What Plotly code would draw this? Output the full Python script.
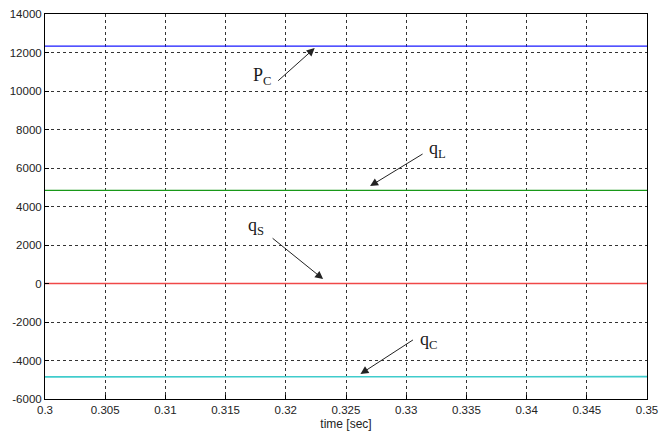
import plotly.graph_objects as go

# Data
time = [0.3, 0.31, 0.32, 0.33, 0.34, 0.345, 0.347, 0.35]
p_c = [12330, 12330, 12330, 12330, 12330, 12330, 12330, 12330]
q_l = [4840, 4840, 4840, 4840, 4840, 4840, 4840, 4840]
q_s = [0, 0, 0, 0, 0, 0, 0, 0]
q_c = [-4850, -4850, -4850, -4850, -4850, -4850, -4830, -4840]

x_ticks = [0.3, 0.305, 0.31, 0.315, 0.32, 0.325, 0.33, 0.335, 0.34, 0.345, 0.35]
x_tick_labels = ["0.3", "0.305", "0.31", "0.315", "0.32", "0.325", "0.33", "0.335", "0.34", "0.345", "0.35"]
y_ticks = [-6000, -4000, -2000, 0, 2000, 4000, 6000, 8000, 10000, 12000, 14000]
y_tick_labels = ["-6000", "-4000", "-2000", "0", "2000", "4000", "6000", "8000", "10000", "12000", "14000"]

fig = go.Figure()
fig.add_trace(go.Scatter(x=time, y=p_c, mode="lines", line=dict(color="#1a1aff", width=1.4)))
fig.add_trace(go.Scatter(x=time, y=q_l, mode="lines", line=dict(color="#189818", width=1.4)))
fig.add_trace(go.Scatter(x=time, y=q_s, mode="lines", line=dict(color="#f04848", width=1.6)))
fig.add_trace(go.Scatter(x=time, y=q_c, mode="lines", line=dict(color="#40cccc", width=1.6)))

arrow_style = dict(showarrow=True, arrowhead=2, arrowsize=1.6, arrowwidth=1, arrowcolor="#222",
                   xref="x", yref="y", text="")
annotations = [
    dict(x=0.3224, y=12230, ax=-38, ay=34, **arrow_style),
    dict(x=0.3270, y=5060, ax=54, ay=-33, **arrow_style),
    dict(x=0.3231, y=230, ax=-52, ay=-42, **arrow_style),
    dict(x=0.3262, y=-4700, ax=54, ay=-35, **arrow_style),
]
label_font = dict(family="Liberation Serif, Times New Roman, serif", size=18, color="#1a1a1a")
labels = [("P<sub>C</sub>", 262, 76), ("q<sub>L</sub>", 437, 149), ("q<sub>S</sub>", 256, 226), ("q<sub>C</sub>", 428, 340)]
for txt, px, py in labels:
    xv = 0.3 + (px - 45) / 602 * 0.05
    yv = 14000 - (py - 14) / 385 * 20000
    annotations.append(dict(x=xv, y=yv, xref="x", yref="y", text=txt, showarrow=False, font=label_font))

axis_common = dict(showline=True, linecolor="black", linewidth=1, mirror=True,
                   showgrid=True, gridcolor="#333", griddash="3px,3px", gridwidth=1,
                   ticks="inside", ticklen=4, tickcolor="black", zeroline=False, automargin=False,
                   tickfont=dict(family="Liberation Sans, Arial, sans-serif", size=11.5, color="#222"))

fig.update_layout(
    width=659, height=432,
    margin=dict(l=45, r=12, t=14, b=33, autoexpand=False),
    paper_bgcolor="white", plot_bgcolor="white",
    showlegend=False,
    annotations=annotations,
    xaxis=dict(range=[0.3, 0.35], tickvals=x_ticks, ticktext=x_tick_labels,
               title=dict(text="time [sec]", standoff=4,
                          font=dict(family="Liberation Sans, Arial, sans-serif", size=12, color="#222")),
               **axis_common),
    yaxis=dict(range=[-6000, 14000], tickvals=y_ticks, ticktext=y_tick_labels, **axis_common),
)

fig.write_html("out.html", config={"displayModeBar": False},
               post_script="document.body.style.margin='0';document.body.style.overflow='hidden';")
